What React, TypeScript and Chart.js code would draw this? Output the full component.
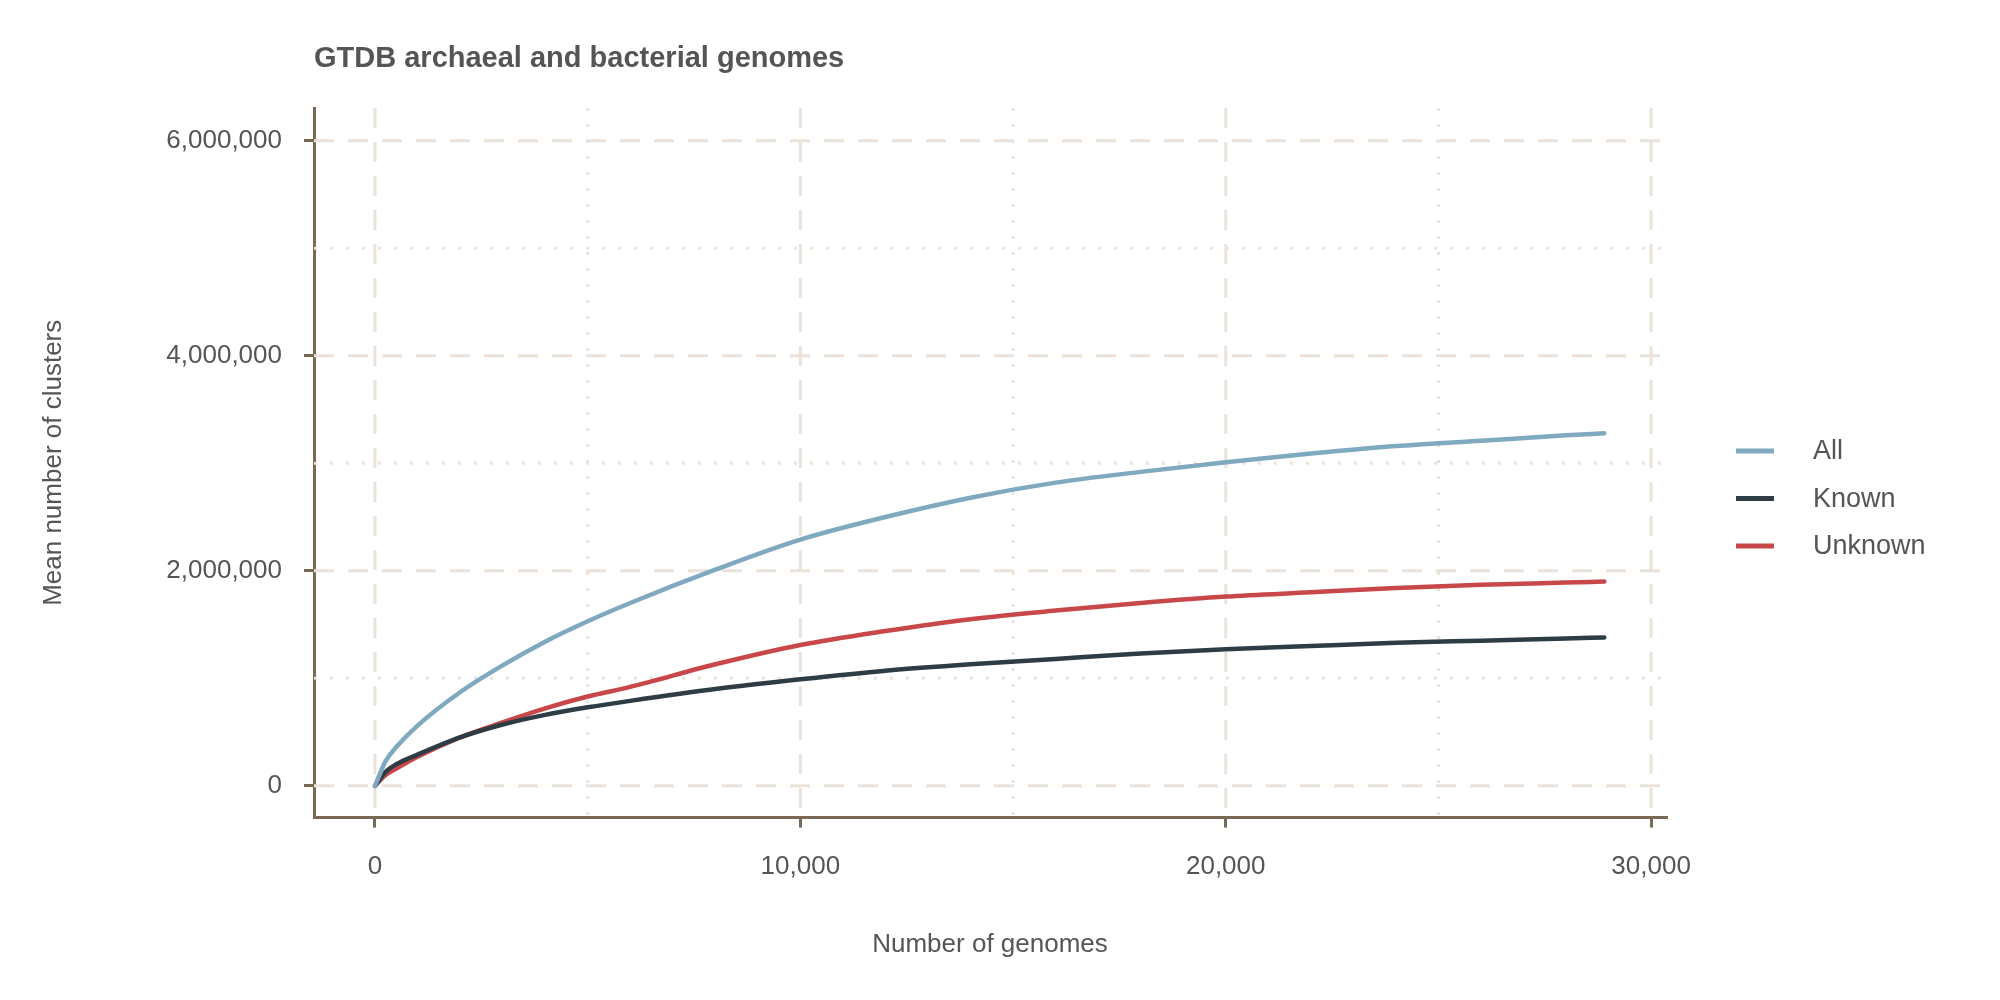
import { useEffect, useRef } from "react"
import { Chart, registerables } from "chart.js"

Chart.register(...registerables)

const genomes = [0, 250, 500, 1000, 2000, 3000, 4000, 5000, 6000, 8000, 10000, 12000, 14000, 16000, 18000, 20000, 22000, 24000, 26000, 28000, 28900]
const allClusters = [0, 230000, 360000, 560000, 870000, 1120000, 1340000, 1530000, 1700000, 2010000, 2290000, 2500000, 2680000, 2820000, 2920000, 3010000, 3090000, 3160000, 3210000, 3260000, 3280000]
const knownClusters = [0, 130000, 200000, 290000, 450000, 570000, 660000, 730000, 790000, 900000, 990000, 1070000, 1130000, 1180000, 1230000, 1270000, 1300000, 1330000, 1350000, 1370000, 1380000]
const unknownClusters = [0, 100000, 160000, 270000, 450000, 590000, 720000, 830000, 920000, 1130000, 1310000, 1440000, 1550000, 1630000, 1700000, 1760000, 1800000, 1840000, 1870000, 1890000, 1900000]
const seriesNames = ["All", "Known", "Unknown"]
const seriesColors = ["#7fa9bf", "#2e3c45", "#c8484a"]
const xTicks = [0, 10000, 20000, 30000]
const yTicks = [0, 2000000, 4000000, 6000000]

const gridColor = "#ebe3d9"
const axisColor = "#7a6a55"
const textColor = "#555555"
const fontFamily = "Liberation Sans"

const gridPlugin = {
  id: "ggGrid",
  beforeDatasetsDraw(chart: any) {
    const { ctx, chartArea, scales } = chart
    ctx.save()
    ctx.strokeStyle = gridColor
    ctx.lineWidth = 3
    const vLine = (v: number, dash: number[]) => {
      const px = scales.x.getPixelForValue(v)
      ctx.setLineDash(dash)
      ctx.beginPath()
      ctx.moveTo(px, chartArea.top)
      ctx.lineTo(px, chartArea.bottom)
      ctx.stroke()
    }
    const hLine = (v: number, dash: number[]) => {
      const py = scales.y.getPixelForValue(v)
      ctx.setLineDash(dash)
      ctx.beginPath()
      ctx.moveTo(chartArea.left, py)
      ctx.lineTo(chartArea.right, py)
      ctx.stroke()
    }
    ;[5000, 15000, 25000].forEach((v) => vLine(v, [3, 13]))
    ;[1000000, 3000000, 5000000].forEach((v) => hLine(v, [3, 13]))
    xTicks.forEach((v) => vLine(v, [20, 14]))
    yTicks.forEach((v) => hLine(v, [20, 14]))
    ctx.restore()
  },
}

// title over the plot panel and a ggplot-style legend on the right
const decorPlugin = {
  id: "ggDecor",
  afterDraw(chart: any) {
    const { ctx, chartArea } = chart
    ctx.save()
    ctx.fillStyle = textColor
    ctx.textBaseline = "middle"
    ctx.font = `bold 29px "${fontFamily}"`
    ctx.fillText("GTDB archaeal and bacterial genomes", chartArea.left, 51)
    ctx.font = `27px "${fontFamily}"`
    seriesNames.forEach((name, i) => {
      const y = 443 + i * 47.5
      ctx.fillStyle = seriesColors[i]
      ctx.fillRect(1728, y - 2.5, 38, 5)
      ctx.fillStyle = textColor
      ctx.fillText(name, 1805, y + 1)
    })
    ctx.restore()
  },
}

export default function App() {
  const canvasRef = useRef<HTMLCanvasElement>(null)
  const chartInstance = useRef<Chart | null>(null)

  useEffect(() => {
    if (!canvasRef.current) return
    if (chartInstance.current) chartInstance.current.destroy()

    const series = [allClusters, knownClusters, unknownClusters]
    const datasets = series.map((data, k) => ({
      label: seriesNames[k],
      data: genomes.map((g, i) => ({ x: g, y: data[i] })),
      borderColor: seriesColors[k],
      backgroundColor: seriesColors[k],
      borderWidth: 4.5,
      pointRadius: 0,
      cubicInterpolationMode: "monotone" as const,
      borderCapStyle: "round" as const,
    }))

    chartInstance.current = new Chart(canvasRef.current, {
      type: "line",
      data: { datasets },
      plugins: [gridPlugin, decorPlugin],
      options: {
        animation: false,
        responsive: false,
        layout: { padding: { left: 20, right: 326, top: 100, bottom: 28 } },
        plugins: {
          legend: { display: false },
          tooltip: { enabled: false },
        },
        scales: {
          x: {
            type: "linear",
            min: -1434,
            max: 30350,
            afterBuildTicks: (s: any) => { s.ticks = xTicks.map((v) => ({ value: v })) },
            ticks: {
              color: textColor,
              font: { family: fontFamily, size: 26 },
              padding: 24,
              maxRotation: 0,
              callback: (v: any) => Number(v).toLocaleString("en-US"),
            },
            grid: { drawOnChartArea: false, drawTicks: true, tickLength: 10, color: axisColor, lineWidth: 3 },
            border: { display: true, color: axisColor, width: 3 },
            title: {
              display: true,
              text: "Number of genomes",
              color: textColor,
              font: { family: fontFamily, size: 26 },
              padding: { top: 22 },
            },
          },
          y: {
            type: "linear",
            min: -296000,
            max: 6305000,
            afterBuildTicks: (s: any) => { s.ticks = yTicks.map((v) => ({ value: v })) },
            afterFit: (s: any) => { s.width = 286 },
            ticks: {
              color: textColor,
              font: { family: fontFamily, size: 26 },
              padding: 22,
              callback: (v: any) => Number(v).toLocaleString("en-US"),
            },
            grid: { drawOnChartArea: false, drawTicks: true, tickLength: 10, color: axisColor, lineWidth: 3 },
            border: { display: true, color: axisColor, width: 3 },
            title: {
              display: true,
              text: "Mean number of clusters",
              color: textColor,
              font: { family: fontFamily, size: 26 },
              padding: { top: 10, bottom: 4 },
            },
          },
        },
      },
    } as any)

    return () => {
      if (chartInstance.current) chartInstance.current.destroy()
      chartInstance.current = null
    }
  }, [])

  return <canvas ref={canvasRef} width={1984} height={984} />
}
